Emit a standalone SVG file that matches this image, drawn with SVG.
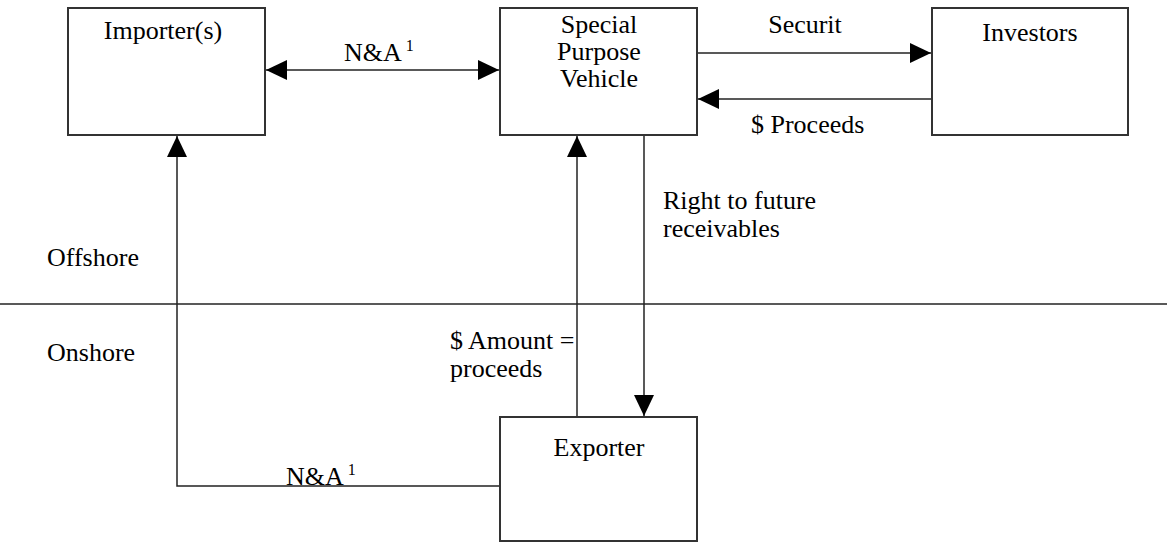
<svg xmlns="http://www.w3.org/2000/svg" width="1167" height="542" viewBox="0 0 1167 542">
<defs>
<style>
.box{fill:#fff;stroke:#333;stroke-width:2}
.ln{fill:none;stroke:#222;stroke-width:1.5}
.t{font-family:"Liberation Serif","Times New Roman",serif;font-size:26px;fill:#000}
.c{text-anchor:middle}
.sup{font-size:16px}
</style>
<marker id="ah" markerUnits="userSpaceOnUse" markerWidth="22" markerHeight="22" viewBox="0 0 22 22" refX="21" refY="11" orient="auto-start-reverse">
<path d="M0,1 L21,11 L0,21 Z" fill="#000"/>
</marker>
</defs>
<rect width="1167" height="542" fill="#fff"/>
<g id="connectors">
<line class="ln" x1="0" y1="304" x2="1167" y2="304"/>
<line class="ln" x1="266" y1="70" x2="499" y2="70" marker-start="url(#ah)" marker-end="url(#ah)"/>
<line class="ln" x1="697" y1="53" x2="931" y2="53" marker-end="url(#ah)"/>
<line class="ln" x1="932" y1="99" x2="698" y2="99" marker-end="url(#ah)"/>
<polyline class="ln" points="500,486 177,486 177,136" marker-end="url(#ah)"/>
<line class="ln" x1="577" y1="417" x2="577" y2="136" marker-end="url(#ah)"/>
<line class="ln" x1="644" y1="133" x2="644" y2="416" marker-end="url(#ah)"/>
</g>
<g id="importer">
<rect class="box" x="68" y="8" width="197" height="127"/>
<text class="t c" x="163" y="39">Importer(s)</text>
</g>
<g id="spv">
<rect class="box" x="500" y="8" width="197" height="127"/>
<text class="t c" x="599" y="33">Special</text>
<text class="t c" x="599" y="60">Purpose</text>
<text class="t c" x="599" y="87">Vehicle</text>
</g>
<g id="investors">
<rect class="box" x="932" y="8" width="196" height="127"/>
<text class="t c" x="1030" y="41">Investors</text>
</g>
<g id="exporter">
<rect class="box" x="500" y="417" width="197" height="124"/>
<text class="t c" x="599" y="456">Exporter</text>
</g>
<g id="labels">
<text class="t" x="344" y="61">N&amp;A<tspan class="sup" dx="4" dy="-10">1</tspan></text>
<text class="t c" x="805" y="33">Securit</text>
<text class="t" x="751" y="133">$ Proceeds</text>
<text class="t" x="663" y="209">Right to future</text>
<text class="t" x="663" y="237">receivables</text>
<text class="t" x="47" y="266">Offshore</text>
<text class="t" x="47" y="361">Onshore</text>
<text class="t" x="450" y="349">$ Amount =</text>
<text class="t" x="450" y="377">proceeds</text>
<text class="t" x="286" y="485">N&amp;A<tspan class="sup" dx="4" dy="-10">1</tspan></text>
</g>
</svg>
